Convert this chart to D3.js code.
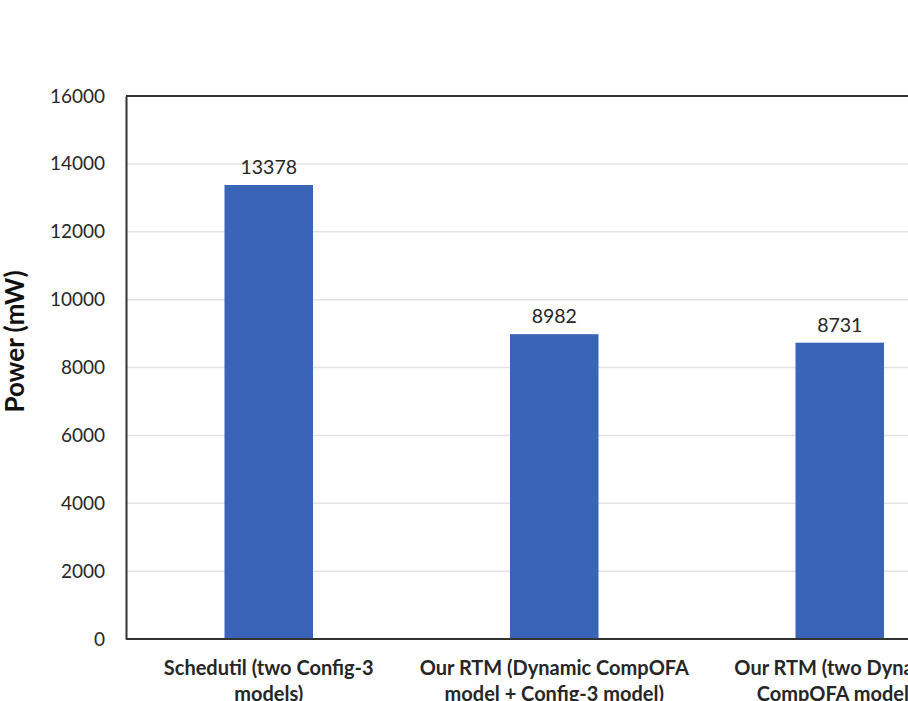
<!DOCTYPE html>
<html>
<head>
<meta charset="utf-8">
<script src="https://cdn.jsdelivr.net/npm/d3@7"></script>
<style>
  html, body { margin: 0; padding: 0; background: #fff; overflow: hidden; }
  svg { display: block; font-family: Lato, "Open Sans", sans-serif; }
</style>
</head>
<body>
<svg id="chart" width="908" height="701"></svg>
<script>
// Power draw for each scheduling setup
const categories = [
  ["Schedutil (two Config-3", "models)"],
  ["Our RTM (Dynamic CompOFA", "model + Config-3 model)"],
  ["Our RTM (two Dynamic", "CompOFA models)"]
];
const powerValues = [13378, 8982, 8731];
const yTicks = [0, 2000, 4000, 6000, 8000, 10000, 12000, 14000, 16000];

const svg = d3.select("#chart");
const plot = { left: 126, top: 96, bottom: 639, step: 285.5 };

const x = d3.scaleBand()
  .domain(d3.range(categories.length))
  .range([plot.left, plot.left + plot.step * categories.length])
  .paddingInner(0.69)
  .paddingOuter(0.345);

const y = d3.scaleLinear().domain([0, 16000]).range([plot.bottom, plot.top]);

// horizontal gridlines
svg.append("g")
  .selectAll("line")
  .data(yTicks.filter(d => d > 0 && d < 16000))
  .join("line")
  .attr("x1", plot.left).attr("x2", 908)
  .attr("y1", d => y(d)).attr("y2", d => y(d))
  .attr("stroke", "#e3e3e3").attr("stroke-width", 1.5);

// bars
svg.append("g")
  .selectAll("rect")
  .data(powerValues)
  .join("rect")
  .attr("x", (d, i) => x(i))
  .attr("width", x.bandwidth())
  .attr("y", d => y(d))
  .attr("height", d => y(0) - y(d))
  .attr("fill", "#3a64b8");

// value labels
svg.append("g")
  .selectAll("text")
  .data(powerValues)
  .join("text")
  .attr("x", (d, i) => x(i) + x.bandwidth() / 2)
  .attr("y", d => y(d) - 11)
  .attr("text-anchor", "middle")
  .attr("font-size", 19.5)
  .attr("fill", "#262626")
  .text(d => d);

// y axis
const yAxis = svg.append("g")
  .attr("transform", `translate(${plot.left},0)`)
  .call(d3.axisLeft(y).tickValues(yTicks).tickFormat(d3.format("d")).tickSize(0).tickPadding(21));
yAxis.select(".domain").attr("stroke", "#333").attr("stroke-width", 2);
yAxis.selectAll("text").attr("font-size", 19).attr("fill", "#262626")
  .attr("font-family", "Lato, 'Open Sans', sans-serif");

// top frame line
svg.append("line")
  .attr("x1", plot.left).attr("x2", 908)
  .attr("y1", plot.top).attr("y2", plot.top)
  .attr("stroke", "#333").attr("stroke-width", 2);

// x axis baseline
svg.append("line")
  .attr("x1", plot.left).attr("x2", 908)
  .attr("y1", plot.bottom).attr("y2", plot.bottom)
  .attr("stroke", "#333").attr("stroke-width", 2);

// category labels (two lines each)
const catG = svg.append("g")
  .selectAll("text")
  .data(categories)
  .join("text")
  .attr("x", (d, i) => x(i) + x.bandwidth() / 2)
  .attr("y", 675)
  .attr("text-anchor", "middle")
  .attr("font-size", 20)
  .attr("font-weight", "bold")
  .attr("fill", "#262626");
catG.selectAll("tspan")
  .data(d => d)
  .join("tspan")
  .attr("x", function () { return d3.select(this.parentNode).attr("x"); })
  .attr("dy", (d, i) => i === 0 ? 0 : 26)
  .text(d => d);

// y axis title
svg.append("text")
  .attr("transform", `translate(24,${(plot.top + plot.bottom) / 2 - 26}) rotate(-90)`)
  .attr("text-anchor", "middle")
  .attr("font-size", 26)
  .attr("font-weight", "bold")
  .attr("fill", "#111")
  .text("Power (mW)");
</script>
</body>
</html>
